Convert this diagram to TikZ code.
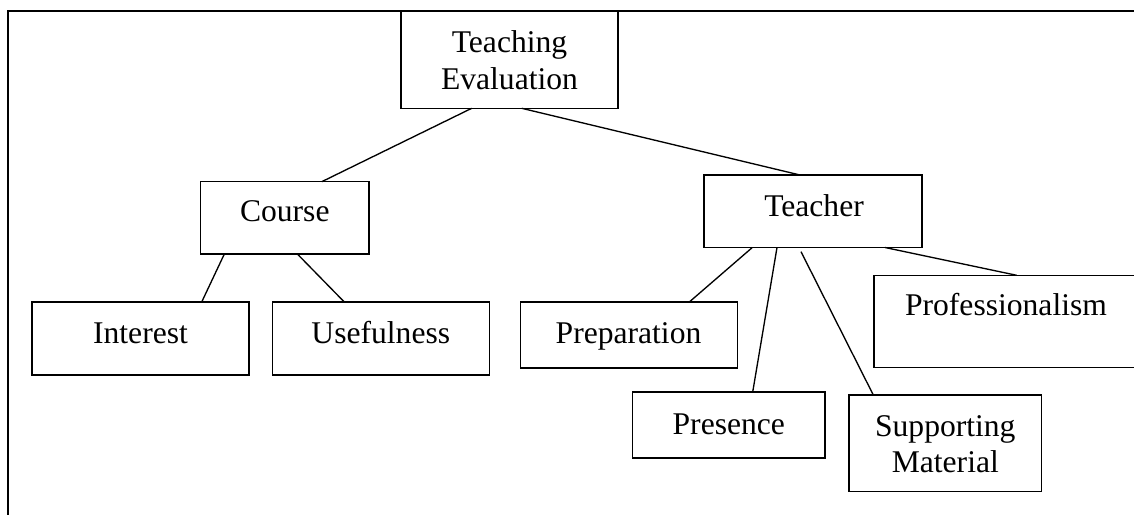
\documentclass[tikz,border=0pt]{standalone}
\usepackage{fontspec}
\setmainfont{Liberation Serif}
\begin{document}
\begin{tikzpicture}[x=0.75pt,y=-0.75pt,
  box/.style={draw=black,line width=1.05pt,inner sep=0pt,outer sep=0pt,rectangle},
  lbl/.style={inner sep=0pt,outer sep=0pt,anchor=base,align=center,font=\fontsize{23.7}{27.3}\selectfont},
  conn/.style={draw=black,line width=1pt},
  frame/.style={draw=black,line width=1.4pt}]
\clip (0,0) rectangle (1134,514);
\useasboundingbox (0,0) rectangle (1134,514);
\draw[frame] (1140,11) -- (8,11) -- (8,520);
% boxes
\node[box,minimum width=217*0.75pt,minimum height=97.3*0.75pt] (te) at (509.5,59.65) {};
\node[box,minimum width=168.3*0.75pt,minimum height=72.3*0.75pt] (course) at (284.85,217.85) {};
\node[box,minimum width=218*0.75pt,minimum height=72.5*0.75pt] (teacher) at (813,211.25) {};
\node[box,minimum width=217*0.75pt,minimum height=73*0.75pt] (interest) at (140.5,338.5) {};
\node[box,minimum width=217*0.75pt,minimum height=73*0.75pt] (useful) at (380.8,338.5) {};
\node[box,minimum width=217*0.75pt,minimum height=66*0.75pt] (prep) at (629.2,335) {};
\node[box,minimum width=192.3*0.75pt,minimum height=66*0.75pt] (pres) at (728.85,425) {};
\node[box,minimum width=192.5*0.75pt,minimum height=96.7*0.75pt] (supp) at (945.25,443.35) {};
\node[box,minimum width=266*0.75pt,minimum height=92.4*0.75pt] (prof) at (1007,321.5) {};
% labels
\node[lbl] (tel) at (509.5,89.3) {Teaching\\Evaluation};
\node[lbl] (coursel) at (284.8,221.7) {Course};
\node[lbl] (teacherl) at (814,216) {Teacher};
\node[lbl] (interestl) at (140.5,343.3) {Interest};
\node[lbl] (usefull) at (380.8,343.3) {Usefulness};
\node[lbl] (prepl) at (628.5,343.3) {Preparation};
\node[lbl] (presl) at (728.8,434) {Presence};
\node[lbl] (suppl) at (945.3,472.7) {Supporting\\Material};
\node[lbl] (profl) at (1006,315) {Professionalism};
% connectors
\draw[conn] ([xshift=-37.8*0.75pt]te.south) -- ([xshift=36.9*0.75pt]course.north);
\draw[conn] ([xshift=12.2*0.75pt]te.south) -- ([xshift=-13*0.75pt]teacher.north);
\draw[conn] ([xshift=-60.5*0.75pt]course.south) -- ([xshift=61.2*0.75pt]interest.north);
\draw[conn] ([xshift=12.5*0.75pt]course.south) -- ([xshift=-36.5*0.75pt]useful.north);
\draw[conn] ([xshift=-60.7*0.75pt]teacher.south) -- ([xshift=60.1*0.75pt]prep.north);
\draw[conn] ([xshift=-36*0.75pt]teacher.south) -- ([xshift=23.85*0.75pt]pres.north);
\draw[conn] ([xshift=-12*0.75pt,yshift=-4.2*0.75pt]teacher.south) -- ([xshift=-71.95*0.75pt]supp.north);
\draw[conn] ([xshift=72*0.75pt]teacher.south) -- ([xshift=9.7*0.75pt]prof.north);
\end{tikzpicture}
\end{document}
